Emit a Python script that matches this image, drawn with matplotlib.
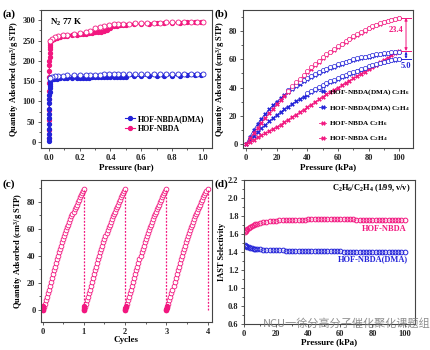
import matplotlib
matplotlib.use("Agg")
import matplotlib.pyplot as plt
from matplotlib.ticker import MultipleLocator

# ---- (a) N2 isotherms at 77 K ----
N2_P_RISE = [0.0002, 0.0004, 0.0006, 0.0008, 0.001, 0.0013, 0.0016, 0.002, 0.0025,
             0.003, 0.0035, 0.004, 0.005, 0.006, 0.007, 0.008, 0.009]
NBDA_RISE = [10, 30, 55, 80, 105, 125, 145, 160, 175, 190, 200, 210, 220, 228, 235, 240, 244]
DMA_RISE = [2, 10, 20, 32, 45, 58, 70, 82, 95, 105, 115, 123, 132, 139, 144, 148, 151]

N2_P_ADS = [0.01, 0.02, 0.03, 0.05, 0.07, 0.1, 0.12, 0.15, 0.18, 0.2, 0.22, 0.24, 0.26, 0.28,
            0.3, 0.32, 0.34, 0.36, 0.38, 0.4, 0.42, 0.44, 0.46, 0.48, 0.5, 0.55, 0.6, 0.65,
            0.7, 0.75, 0.8, 0.85, 0.9, 0.95, 0.99]
NBDA_N2_ADS = [248, 252, 254, 257, 259, 261, 262, 263, 264, 265, 266, 267, 268, 269, 270, 271,
               272, 274, 277, 281, 285, 287, 288, 289, 289.5, 290.5, 291.5, 292, 293, 293.5,
               294, 294.5, 295, 295.5, 296]
DMA_N2_ADS = [153, 155, 155.5, 156, 156.5, 157, 157.2, 157.5, 158, 158.2, 158.4, 158.6, 158.8,
              159, 159.2, 159.4, 159.6, 159.8, 160, 160.2, 160.4, 160.6, 160.8, 161, 161.2,
              161.6, 162, 162.4, 162.8, 163.2, 163.5, 163.8, 164.1, 164.4, 164.7]

N2_P_DES = [1.0, 0.96, 0.92, 0.88, 0.84, 0.8, 0.76, 0.72, 0.68, 0.64, 0.6, 0.56, 0.52, 0.48,
            0.45, 0.42, 0.39, 0.36, 0.33, 0.3, 0.27, 0.24, 0.2, 0.16, 0.12, 0.09, 0.06, 0.04,
            0.02, 0.01]
NBDA_N2_DES = [297, 296.5, 296, 295.7, 295.3, 295, 294.6, 294.2, 293.8, 293.4, 293, 292.5, 292,
               291.3, 290.6, 289.8, 288.5, 286.5, 284, 280, 274, 270.5, 268.5, 266.5, 264.5,
               263, 261, 258.5, 255, 250]
DMA_N2_DES = [167.5, 167.5, 167.4, 167.4, 167.3, 167.3, 167.2, 167.2, 167.1, 167.1, 167, 167,
              166.9, 166.8, 166.7, 166.6, 166.5, 166.4, 166.2, 166, 165.8, 165.5, 165.2, 164.8,
              164.3, 163.8, 163, 162, 160.5, 158.5]

# ---- (b) C2H6 / C2H4 isotherms ----
P_B = [0, 2.5, 5, 7.5, 10, 12.5, 15, 17.5, 20, 22.5, 25, 27.5, 30, 32.5, 35, 37.5, 40, 42.5,
       45, 47.5, 50, 52.5, 55, 57.5, 60, 62.5, 65, 67.5, 70, 72.5, 75, 77.5, 80, 82.5, 85,
       87.5, 90, 92.5, 95, 97.5, 100]
DMA_C2H6 = [0, 5.2, 10, 14.2, 18, 21.3, 24.4, 27.3, 30, 32.4, 34.7, 36.9, 39, 40.9, 42.7, 44.4,
            46, 47.5, 48.9, 50.2, 51.5, 52.7, 53.8, 54.9, 56, 56.9, 57.8, 58.7, 59.5, 60.2,
            60.9, 61.5, 62, 62.6, 63.1, 63.6, 64, 64.4, 64.8, 65.2, 65.5]
DMA_C2H4 = [0, 2.8, 5.6, 8.4, 11, 13.5, 16, 18.3, 20.5, 22.6, 24.6, 26.5, 28.3, 30.1, 31.8,
            33.4, 35, 36.5, 38, 39.5, 41, 42.3, 43.6, 44.8, 46, 47.2, 48.3, 49.4, 50.5, 51.5,
            52.5, 53.5, 54.5, 55.4, 56.3, 57.2, 58, 58.7, 59.3, 59.9, 60.5]
NBDA_C2H6 = [0, 3.8, 7.6, 11.3, 15, 18.3, 21.6, 24.8, 28, 31, 34, 37, 40, 42.8, 45.6, 48.3, 51,
             53.5, 56, 58.5, 61, 63, 65, 67, 69, 70.8, 72.5, 74.3, 76, 77.5, 79, 80.5, 82,
             83.2, 84.3, 85.4, 86.5, 87.3, 88, 88.8, 89.5]
NBDA_C2H4 = [0, 1.5, 3, 4.5, 6, 7.5, 9, 10.5, 12, 13.7, 15.4, 17.2, 19, 20.7, 22.5, 24.2, 26,
             27.9, 29.7, 31.6, 33.5, 35.1, 36.7, 38.4, 40, 41.6, 43.3, 44.9, 46.5, 48.1, 49.8,
             51.4, 53, 54.6, 56.3, 57.9, 59.5, 61.1, 62.8, 64.4, 66]
# desorption branches (open symbols)
P_DES_HI = P_B[11:]
P_DES_LO = P_B[16:]
DMA_C2H6_DES = [37.9, 40, 41.9, 43.6, 45.3, 46.9, 48.4, 49.8, 51.1, 52.3, 53.5, 54.6, 55.6,
                56.6, 57.5, 58.4, 59.2, 60, 60.7, 61.4, 62, 62.5, 63.1, 63.6, 64, 64.4, 64.8,
                65.1, 65.4, 65.6]
DMA_C2H4_DES = [35.8, 37.3, 38.8, 40.3, 41.7, 43, 44.3, 45.5, 46.7, 47.9, 49, 50.1, 51.1, 52.1,
                53.1, 54.1, 55, 55.9, 56.8, 57.6, 58.4, 59.1, 59.7, 60.2, 60.6]
NBDA_C2H6_DES = [37.8, 40.8, 43.6, 46.4, 49.1, 51.8, 54.3, 56.8, 59.2, 61.6, 63.6, 65.6, 67.5,
                 69.5, 71.2, 72.9, 74.7, 76.3, 77.8, 79.3, 80.8, 82.2, 83.4, 84.5, 85.6, 86.6,
                 87.4, 88.1, 88.9, 89.5]
GAP_NBDA = "23.4"
GAP_DMA = "5.0"

# ---- (c) cycling of HOF-NBDA C2H6 ----
CYCLES = [0, 1, 2, 3]
CYCLE_FRAC = [0, 0.025, 0.05, 0.075, 0.1, 0.125, 0.15, 0.175, 0.2, 0.225, 0.25, 0.275, 0.3,
              0.325, 0.35, 0.375, 0.4, 0.425, 0.45, 0.475, 0.5, 0.525, 0.55, 0.575, 0.6, 0.625,
              0.65, 0.675, 0.7, 0.725, 0.75, 0.775, 0.8, 0.825, 0.85, 0.875, 0.9, 0.925, 0.95,
              0.975, 1.0]
CYCLE_Q = [0, 2.2, 4.5, 7, 9.5, 12.2, 15, 17.7, 20.5, 23.5, 26.5, 29.3, 32, 34.8, 37.5, 40,
           42.5, 45, 47.5, 49.8, 52, 54.3, 56.5, 58.8, 61, 63, 65, 67, 69, 70.8, 72.5, 74.3,
           76, 77.8, 79.5, 81.3, 83, 84.8, 86.5, 88, 89.5]
START_FRAC = [0, 0.004, 0.008, 0.012, 0.016]
START_Q = [0, 0.5, 1, 1.8, 2.6]

# ---- (d) IAST selectivity ----
P_SEL = [0.5, 1, 1.5, 2, 3, 4, 5, 6, 7, 8, 10, 12, 14, 16, 18, 20, 22, 24, 26, 28, 30, 32, 34,
         36, 38, 40, 42, 44, 46, 48, 50, 52, 54, 56, 58, 60, 62, 64, 66, 68, 70, 72, 74, 76,
         78, 80, 82, 84, 86, 88, 90, 92, 94, 96, 98, 100]
SEL_NBDA = [1.625, 1.635, 1.645, 1.655, 1.668, 1.68, 1.69, 1.699, 1.706, 1.713, 1.723, 1.731,
            1.737, 1.742, 1.746, 1.749, 1.751, 1.753, 1.755, 1.756, 1.757, 1.758, 1.759, 1.76,
            1.76, 1.761, 1.761, 1.761, 1.762, 1.762, 1.762, 1.762, 1.762, 1.762, 1.762, 1.762,
            1.761, 1.761, 1.761, 1.761, 1.76, 1.76, 1.76, 1.76, 1.759, 1.759, 1.759, 1.758,
            1.758, 1.758, 1.757, 1.757, 1.757, 1.756, 1.756, 1.756]
SEL_DMA = [1.475, 1.468, 1.462, 1.457, 1.45, 1.445, 1.441, 1.438, 1.435, 1.433, 1.429, 1.426,
           1.424, 1.422, 1.42, 1.419, 1.418, 1.417, 1.416, 1.415, 1.414, 1.413, 1.413, 1.412,
           1.411, 1.411, 1.41, 1.41, 1.409, 1.409, 1.408, 1.408, 1.407, 1.407, 1.406, 1.406,
           1.405, 1.405, 1.405, 1.404, 1.404, 1.404, 1.403, 1.403, 1.403, 1.402, 1.402, 1.402,
           1.401, 1.401, 1.401, 1.4, 1.4, 1.4, 1.4, 1.399]

PINK = "#F2177F"
BLUE = "#2323D8"
SPINE = "#444444"

plt.rcParams["font.family"] = ["Liberation Serif", "DejaVu Serif"]
plt.rcParams["font.weight"] = "bold"
plt.rcParams["axes.labelweight"] = "bold"
plt.rcParams["mathtext.default"] = "regular"
plt.rcParams["axes.linewidth"] = 0.8
plt.rcParams["axes.edgecolor"] = SPINE

fig = plt.figure(figsize=(4.31, 3.5), dpi=100)
ax_a = fig.add_axes([0.095, 0.577, 0.397, 0.394])
ax_b = fig.add_axes([0.564, 0.577, 0.394, 0.394])
ax_c = fig.add_axes([0.095, 0.080, 0.397, 0.406])
ax_d = fig.add_axes([0.566, 0.074, 0.397, 0.412])


def style_axes(ax, xmaj, xmin, ymaj, ymin):
    ax.xaxis.set_major_locator(MultipleLocator(xmaj))
    ax.xaxis.set_minor_locator(MultipleLocator(xmin))
    ax.yaxis.set_major_locator(MultipleLocator(ymaj))
    ax.yaxis.set_minor_locator(MultipleLocator(ymin))
    ax.tick_params(which="both", direction="out", width=0.6, colors=SPINE,
                   labelsize=6, labelcolor="#222222", pad=1.5)
    ax.tick_params(which="major", length=2.5)
    ax.tick_params(which="minor", length=1.3)


QLABEL = "Quantity Adsorbed (cm$^3$/g STP)"

# (a)
ax_a.plot(N2_P_RISE, NBDA_RISE, color=PINK, marker="o", ms=2.8, lw=0.8)
ax_a.plot(N2_P_ADS, NBDA_N2_ADS, color=PINK, marker="o", ms=2.8, lw=0.8, label="HOF-NBDA")
ax_a.plot(N2_P_DES, NBDA_N2_DES, color=PINK, marker="o", ms=3.6, lw=0.5, mfc="white", mew=0.6)
ax_a.plot(N2_P_RISE, DMA_RISE, color=BLUE, marker="o", ms=2.8, lw=0.8)
ax_a.plot(N2_P_ADS, DMA_N2_ADS, color=BLUE, marker="o", ms=2.8, lw=0.8, label="HOF-NBDA(DMA)")
ax_a.plot(N2_P_DES, DMA_N2_DES, color=BLUE, marker="o", ms=3.6, lw=0.5, mfc="white", mew=0.6)
ax_a.set_xlim(-0.052, 1.06)
ax_a.set_ylim(-15, 325)
style_axes(ax_a, 0.2, 0.1, 50, 25)
ax_a.set_xlabel("Pressure (bar)", fontsize=6.5, labelpad=1)
ax_a.set_ylabel(QLABEL, fontsize=6, labelpad=1.5)
ax_a.text(0.05, 0.95, "N$_2$ 77 K", transform=ax_a.transAxes, fontsize=6.5, va="top")
h, l = ax_a.get_legend_handles_labels()
ax_a.legend(h[::-1], l[::-1], loc="lower right", fontsize=5.8, frameon=False,
            handlelength=1.2, handletextpad=0.4, labelspacing=0.15,
            bbox_to_anchor=(1.0, 0.06))

# (b)
series_b = [
    (DMA_C2H6, BLUE, "HOF-NBDA(DMA) C$_2$H$_6$"),
    (DMA_C2H4, BLUE, "HOF-NBDA(DMA) C$_2$H$_4$"),
    (NBDA_C2H6, PINK, "HOF-NBDA C$_2$H$_6$"),
    (NBDA_C2H4, PINK, "HOF-NBDA C$_2$H$_4$"),
]
for q, c, lab in series_b:
    ax_b.plot(P_B, q, color=c, marker="X", ms=3.0, lw=0.6, mew=0.2, label=lab)
ax_b.plot(P_DES_HI, DMA_C2H6_DES, ls="none", marker="o", ms=3.0, mfc="white", mec=BLUE, mew=0.5)
ax_b.plot(P_DES_LO, DMA_C2H4_DES, ls="none", marker="o", ms=3.0, mfc="white", mec=BLUE, mew=0.5)
ax_b.plot(P_DES_HI, NBDA_C2H6_DES, ls="none", marker="o", ms=3.0, mfc="white", mec=PINK, mew=0.5)
ax_b.set_xlim(-2, 109)
ax_b.set_ylim(-3, 95)
style_axes(ax_b, 20, 10, 20, 10)
ax_b.set_xlabel("Pressure (kPa)", fontsize=6.5, labelpad=1)
ax_b.set_ylabel(QLABEL, fontsize=6, labelpad=1.5)
leg = ax_b.legend(loc="lower right", fontsize=5.2, frameon=False, handlelength=0.9,
                  handletextpad=0.4, labelspacing=0.85, bbox_to_anchor=(1.01, 0.0),
                  borderaxespad=0.3)
leg.set_zorder(5)
xa = 104.5
top6, top4 = NBDA_C2H6[-1], NBDA_C2H4[-1]
ax_b.annotate("", xy=(xa, top6), xytext=(xa, top4),
              arrowprops=dict(arrowstyle="<|-|>", color=PINK, lw=0.7, mutation_scale=4,
                              shrinkA=0, shrinkB=0))
ax_b.plot([xa - 3, xa + 3], [top6, top6], color=PINK, lw=0.7)
ax_b.plot([xa - 3, xa + 3], [top4, top4], color=PINK, lw=0.7)
ax_b.text(xa - 1.5, (top6 + top4) / 2 + 3, GAP_NBDA, color=PINK, fontsize=6, ha="right", va="center")
d6, d4 = DMA_C2H6[-1], DMA_C2H4[-1]
ax_b.annotate("", xy=(xa, d6), xytext=(xa, d4),
              arrowprops=dict(arrowstyle="<|-|>", color=BLUE, lw=0.7, mutation_scale=3,
                              shrinkA=0, shrinkB=0))
ax_b.plot([xa - 3, xa + 3], [d4, d4], color=BLUE, lw=0.7)
ax_b.text(xa, d4 - 2.5, GAP_DMA, color=BLUE, fontsize=6, ha="center", va="top")

# (c)
for k in CYCLES:
    xs = [k + f for f in CYCLE_FRAC]
    ax_c.plot(xs, CYCLE_Q, color=PINK, marker="o", ms=3.4, lw=0.4, mfc="white", mew=0.6)
    ax_c.plot([k + f for f in START_FRAC], START_Q, color=PINK, marker="o", ms=2.8, lw=0.5)
    ax_c.plot([k + 1, k + 1], [CYCLE_Q[0], CYCLE_Q[-1]], color=PINK, lw=0.9, ls=(0, (1.5, 1.2)))
ax_c.set_xlim(-0.04, 4.11)
ax_c.set_ylim(-9, 96)
style_axes(ax_c, 1, 0.5, 20, 10)
ax_c.set_xlabel("Cycles", fontsize=6.5, labelpad=0.5)
ax_c.set_ylabel(QLABEL, fontsize=6, labelpad=1.5)

# (d)
ax_d.plot(P_SEL, SEL_NBDA, ls="none", marker="o", ms=3.4, mfc="none", mec=PINK, mew=0.7)
ax_d.plot(P_SEL, SEL_DMA, ls="none", marker="o", ms=3.4, mfc="none", mec=BLUE, mew=0.7)
ax_d.set_xlim(0, 106.5)
ax_d.set_ylim(0.6, 2.2)
style_axes(ax_d, 20, 10, 0.2, 0.1)
ax_d.set_xlabel("Pressure (kPa)", fontsize=6.5, labelpad=0.5)
ax_d.set_ylabel("IAST Selectivity", fontsize=6, labelpad=1.5)
ax_d.text(0.975, 0.94, "C$_2$H$_6$/C$_2$H$_4$ (1/99, v/v)", transform=ax_d.transAxes,
          fontsize=6, ha="right", va="center")
ax_d.text(0.95, 0.66, "HOF-NBDA", transform=ax_d.transAxes, color=PINK, fontsize=6,
          ha="right", va="center")
ax_d.text(0.96, 0.45, "HOF-NBDA(DMA)", transform=ax_d.transAxes, color=BLUE, fontsize=6,
          ha="right", va="center")

# panel labels
for txt, x, y in [("(a)", 0.005, 0.96), ("(b)", 0.497, 0.96),
                  ("(c)", 0.005, 0.475), ("(d)", 0.497, 0.475)]:
    fig.text(x, y, txt, fontsize=8, ha="left", va="center")

# watermark
fig.text(0.61, 0.075, "NCU一徐分高分子催化聚化课题组", fontsize=8, color="#7a7a7a",
         family=["Noto Sans CJK SC", "DejaVu Sans"], fontweight="normal", alpha=0.85,
         ha="left", va="center")

fig.savefig("out.png", dpi=100)
